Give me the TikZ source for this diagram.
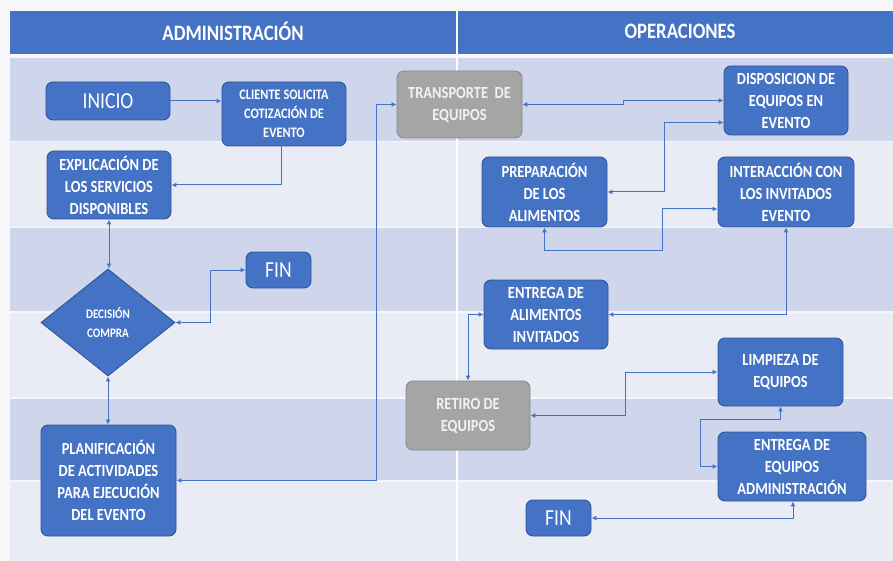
\documentclass[tikz,border=0pt]{standalone}
\usepackage{fontspec}
\setmainfont{Carlito}
\newfontfamily\cf{Carlito}[FakeStretch=0.85]
\usetikzlibrary{shapes.geometric,arrows.meta}
\definecolor{hdr}{HTML}{4472C4}
\definecolor{bandA}{HTML}{CFD5EA}
\definecolor{bandB}{HTML}{E9EBF5}
\definecolor{outerbg}{HTML}{F7F7F9}
\definecolor{bxfill}{HTML}{4472C4}
\definecolor{bxline}{HTML}{2F5597}
\definecolor{gyfill}{HTML}{A5A5A5}
\definecolor{gyline}{HTML}{8A8A8A}
\definecolor{gytext}{HTML}{F2F2F2}
\definecolor{lnk}{HTML}{4472C4}
\begin{document}
\begin{tikzpicture}[x=1pt,y=-1pt,
  >={Latex[length=5pt,width=5pt]},
  box/.style={draw=bxline, fill=bxfill, line width=0.9pt, rounded corners=7pt,
    text=white, align=center, inner sep=0pt,
    font=\cf\bfseries\fontsize{17}{22}\selectfont},
  gbox/.style={box, draw=gyline, fill=gyfill, text=gytext},
  bigbox/.style={box, font=\cf\fontsize{23}{26}\selectfont},
  hdrtext/.style={text=white, font=\cf\bfseries\fontsize{22}{24}\selectfont},
  lk/.style={draw=lnk, line width=1pt}
]
\useasboundingbox (0,0) rectangle (893,561);
\fill[outerbg] (0,0) rectangle (893,561);
% header
\fill[hdr] (10,11) rectangle (893,54);
% bands
\fill[bandA] (10,58) rectangle (893,141);
\fill[bandB] (10,142.5) rectangle (893,227);
\fill[bandA] (10,228.5) rectangle (893,311);
\fill[bandB] (10,312.5) rectangle (893,397);
\fill[bandA] (10,398.5) rectangle (893,480);
\fill[bandB] (10,481.5) rectangle (893,561);
\draw[white, line width=1.5pt] (457,11) -- (457,561);

\node[hdrtext] (hadm) at (233,31) {ADMINISTRACIÓN};
\node[hdrtext] (hops) at (680,31) {OPERACIONES};

% nodes
\node[bigbox, minimum width=124pt, minimum height=38pt] (inicio) at (108,101) {INICIO};
\node[box, minimum width=124pt, minimum height=64pt, font=\cf\bfseries\fontsize{14.5}{19}\selectfont] (cliente) at (284,114) {CLIENTE SOLICITA\\COTIZACIÓN DE\\EVENTO};
\node[gbox, minimum width=125pt, minimum height=67pt] (transporte) at (459.5,104.5) {TRANSPORTE~ DE\\EQUIPOS};
\node[box, minimum width=124pt, minimum height=69pt] (disposicion) at (786,100.5) {DISPOSICION DE\\EQUIPOS EN\\EVENTO};
\node[box, minimum width=124pt, minimum height=68pt] (explicacion) at (109,185) {EXPLICACIÓN DE\\LOS SERVICIOS\\DISPONIBLES};
\node[diamond, draw=bxline, fill=bxfill, line width=0.9pt, minimum width=134pt, minimum height=107pt, inner sep=0pt, text=white, align=center, font=\cf\bfseries\fontsize{13}{19}\selectfont] (decision) at (108,322.5) {DECISIÓN\\COMPRA};
\node[bigbox, minimum width=65pt, minimum height=36pt] (finL) at (278.5,270) {FIN};
\node[box, minimum width=135pt, minimum height=111pt] (planif) at (108.5,480.5) {PLANIFICACIÓN\\DE ACTIVIDADES\\PARA EJECUCIÓN\\DEL EVENTO};
\node[box, minimum width=125pt, minimum height=70pt] (preparacion) at (544.5,192) {PREPARACIÓN\\DE LOS\\ALIMENTOS};
\node[box, minimum width=136pt, minimum height=70pt] (interaccion) at (786,192) {INTERACCIÓN CON\\LOS INVITADOS\\EVENTO};
\node[box, minimum width=124pt, minimum height=69pt] (entregaAl) at (546,314.5) {ENTREGA DE\\ALIMENTOS\\INVITADOS};
\node[box, minimum width=125pt, minimum height=68pt] (limpieza) at (780.5,372) {LIMPIEZA DE\\EQUIPOS};
\node[gbox, minimum width=124pt, minimum height=69pt] (retiro) at (468,415.5) {RETIRO DE\\EQUIPOS};
\node[box, minimum width=148pt, minimum height=69pt] (entregaEq) at (792,466.5) {ENTREGA DE\\EQUIPOS\\ADMINISTRACIÓN};
\node[bigbox, minimum width=65pt, minimum height=36pt] (finR) at (558.5,518) {FIN};

% connectors
\draw[lk,->] ([yshift=13pt]cliente.west -| inicio.east) -- ([yshift=13pt]cliente.west);
\draw[lk,->] ([xshift=-3pt]cliente.south) |- (explicacion.east);
\draw[lk,<->] (explicacion.south) -- (explicacion.south |- decision.north);
\draw[lk,<->] (decision.east) -- ++(35,0) |- (finL.west);
\draw[lk,<->] (decision.south) -- (decision.south |- planif.north);
\draw[lk,<->] (planif.east) -- ++(200,0) |- (transporte.west);
\draw[lk,<->] (transporte.east) -- ++(101,0) |- (disposicion.west);
\draw[lk,<->] ([yshift=-22pt]disposicion.west) -- ++(-59,0) |- (preparacion.east);
\draw[lk,<->] (preparacion.south) |- (662,250) |- ([yshift=-17pt]interaccion.west);
\draw[lk,<->] (interaccion.south) |- (entregaAl.east);
\draw[lk,<->] (entregaAl.west) -| (retiro.north);
\draw[lk,<->] (retiro.east) -- ++(95,0) |- (limpieza.west);
\draw[lk,<->] (limpieza.south) |- (700,419) |- (entregaEq.west);
\draw[lk,<->] ([xshift=1pt]entregaEq.south) |- (finR.east);
\end{tikzpicture}
\end{document}
